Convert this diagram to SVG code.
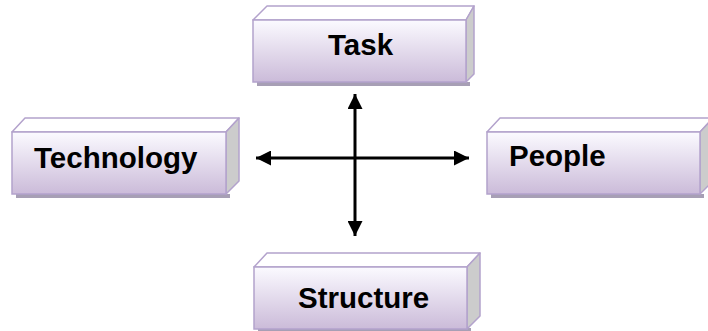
<svg xmlns="http://www.w3.org/2000/svg" width="708" height="331" viewBox="0 0 708 331">
  <defs>
    <linearGradient id="faceGrad" x1="0" y1="0" x2="0" y2="1">
      <stop offset="0" stop-color="#fbfaff"/>
      <stop offset="1" stop-color="#cbbbd9"/>
    </linearGradient>
    <marker id="arrow" viewBox="0 0 10 10" refX="10" refY="5" markerWidth="5" markerHeight="5" markerUnits="strokeWidth" orient="auto-start-reverse">
      <path d="M0,0 L10,5 L0,10 Z" fill="#000"/>
    </marker>
  </defs>
  <style>
    .front { fill: url(#faceGrad); stroke: #b3a2cc; stroke-width: 1.5; }
    .top { fill: #ffffff; stroke: #b3a2cc; stroke-width: 1.5; stroke-linejoin: round; }
    .side { fill: #cccccc; stroke: #b3a2cc; stroke-width: 1.5; stroke-linejoin: round; }
    .shadow { fill: #a79fb5; }
    .label { font-family: "Liberation Sans", Arial, sans-serif; font-weight: bold; font-size: 29.5px; fill: #000; }
    .link { stroke: #000; stroke-width: 3; fill: none; }
  </style>

  <rect width="708" height="331" fill="#ffffff"/>

  <g id="connectors">
    <line class="link" x1="355" y1="94" x2="355" y2="236" marker-start="url(#arrow)" marker-end="url(#arrow)"/>
    <line class="link" x1="256" y1="158" x2="469" y2="158" marker-start="url(#arrow)" marker-end="url(#arrow)"/>
  </g>

  <g id="task">
    <rect class="shadow" x="257" y="82" width="213" height="4"/>
    <path class="top" d="M253,20 L267,6 L474,6 L466,20 Z"/>
    <path class="side" d="M466,20 L474,6 L474,74 L466,82 Z"/>
    <rect class="front" x="253" y="20" width="213" height="62"/>
    <text class="label" x="328" y="55">Task</text>
  </g>

  <g id="technology">
    <rect class="shadow" x="16" y="194" width="214" height="4"/>
    <path class="top" d="M12,132 L25,118 L239,118 L226,132 Z"/>
    <path class="side" d="M226,132 L239,118 L239,181 L226,194 Z"/>
    <rect class="front" x="12" y="132" width="214" height="62"/>
    <text class="label" x="34" y="168">Technology</text>
  </g>

  <g id="people">
    <rect class="shadow" x="491" y="194" width="213" height="4"/>
    <path class="top" d="M487,132 L500,118 L713,118 L700,132 Z"/>
    <path class="side" d="M700,132 L713,118 L713,181 L700,194 Z"/>
    <rect class="front" x="487" y="132" width="213" height="62"/>
    <text class="label" x="509" y="166">People</text>
  </g>

  <g id="structure">
    <rect class="shadow" x="258" y="328" width="213" height="4"/>
    <path class="top" d="M254,267 L267,253 L480,253 L467,267 Z"/>
    <path class="side" d="M467,267 L480,253 L480,316 L467,329 Z"/>
    <rect class="front" x="254" y="267" width="213" height="62"/>
    <text class="label" x="298" y="308">Structure</text>
  </g>
</svg>
